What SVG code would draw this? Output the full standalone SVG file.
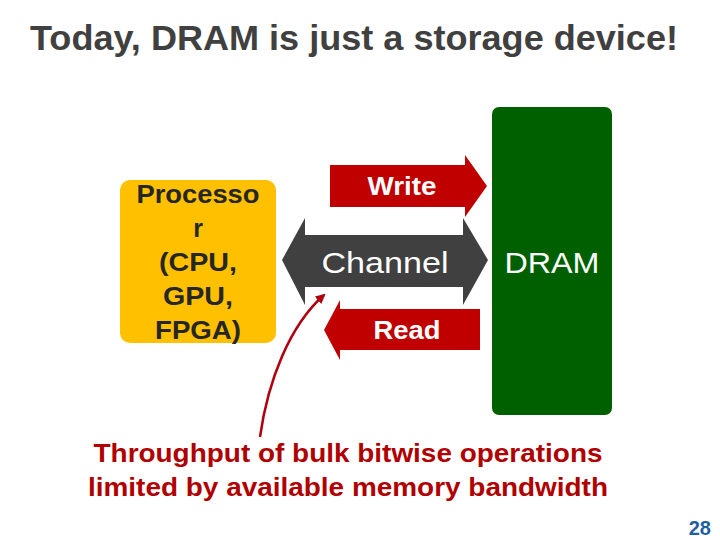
<svg xmlns="http://www.w3.org/2000/svg" width="720" height="540" viewBox="0 0 720 540">
<defs>
<style>
.t{font-family:"Liberation Sans",Arial,sans-serif;}
.b{font-weight:bold;}
</style>
<marker id="ah" viewBox="0 0 10 10" refX="8" refY="5" markerWidth="4" markerHeight="4" orient="auto"><path d="M0,0 L10,5 L0,10 z" fill="#B00010"/></marker>
</defs>
<rect width="720" height="540" fill="#fff"/>
<text class="t b" x="354" y="50" font-size="35" fill="#404040" text-anchor="middle" textLength="648" lengthAdjust="spacingAndGlyphs">Today, DRAM is just a storage device!</text>
<g id="processor">
<rect x="120" y="180" width="156" height="163" rx="10" fill="#FFC000"/>
<g class="t b" font-size="25" fill="#262626" text-anchor="middle">
<text x="198" y="203" textLength="123" lengthAdjust="spacingAndGlyphs">Processo</text>
<text x="198" y="237">r</text>
<text x="198" y="271" textLength="78" lengthAdjust="spacingAndGlyphs">(CPU,</text>
<text x="198" y="305" textLength="70" lengthAdjust="spacingAndGlyphs">GPU,</text>
<text x="198" y="339" textLength="86" lengthAdjust="spacingAndGlyphs">FPGA)</text>
</g>
</g>
<g id="dram">
<rect x="492" y="107" width="120" height="308" rx="7" fill="#006000"/>
<text class="t" x="552" y="273" font-size="30" fill="#fff" text-anchor="middle" textLength="95" lengthAdjust="spacingAndGlyphs">DRAM</text>
</g>
<g id="connectors">
<g id="channel">
<path d="M282,260 L305,218 L305,235 L463,235 L463,218 L488,260 L463,305 L463,287 L305,287 L305,305 Z" fill="#404040"/>
<text class="t" x="385" y="273" font-size="30" fill="#fff" text-anchor="middle" textLength="127" lengthAdjust="spacingAndGlyphs">Channel</text>
</g>
<g id="write">
<path d="M330,165 L465,165 L465,155 L487,186 L465,217 L465,207 L330,207 Z" fill="#C00000"/>
<text class="t b" x="402" y="195" font-size="25" fill="#fff" text-anchor="middle" textLength="69" lengthAdjust="spacingAndGlyphs">Write</text>
</g>
<g id="read">
<path d="M480,309 L340,309 L340,300 L324,330 L340,360 L340,350 L480,350 Z" fill="#C00000"/>
<text class="t b" x="407" y="339" font-size="25" fill="#fff" text-anchor="middle" textLength="67" lengthAdjust="spacingAndGlyphs">Read</text>
</g>
<path d="M260,437 C268,380 290,325 324,295" fill="none" stroke="#B00010" stroke-width="2.5" marker-end="url(#ah)"/>
</g>
<g class="t b" font-size="25" fill="#B00000" text-anchor="middle">
<text x="348" y="462" textLength="509" lengthAdjust="spacingAndGlyphs">Throughput of bulk bitwise operations</text>
<text x="348" y="496" textLength="520" lengthAdjust="spacingAndGlyphs">limited by available memory bandwidth</text>
</g>
<text class="t b" x="711" y="535" font-size="20" fill="#1F5FA0" text-anchor="end">28</text>
</svg>
